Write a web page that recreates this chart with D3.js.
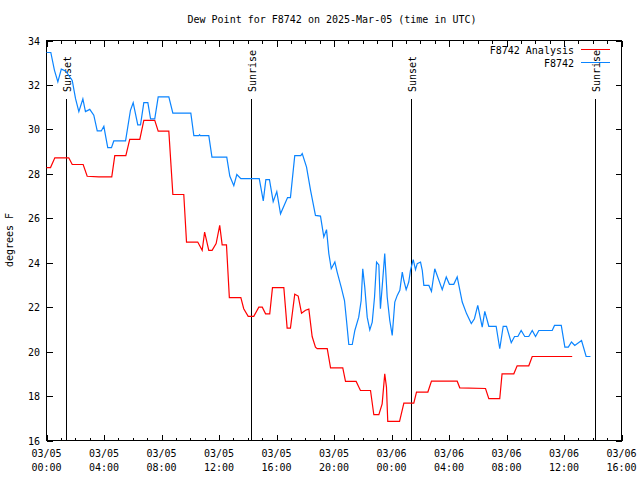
<!DOCTYPE html>
<html><head><meta charset="utf-8">
<script src="https://cdn.jsdelivr.net/npm/d3@7"></script>
<style>body{margin:0;background:#fff}svg{display:block}text{font-family:"DejaVu Sans Mono",monospace;font-size:10px;fill:#000}</style>
</head><body><svg id="c" width="640" height="480"></svg>
<script>
const titleText = "Dew Point for F8742 on 2025-Mar-05 (time in UTC)";
const yLabel = "degrees F";
const seriesNames = ["F8742 Analysis", "F8742"];
const seriesColors = ["#ff0000", "#0a84ff"];
const yTicks = [16, 18, 20, 22, 24, 26, 28, 30, 32, 34];
// hours since 2025-03-05 00:00 UTC
const obsHours = [0.0,0.3,0.55,0.79,1.03,1.33,1.79,2.02,2.25,2.53,2.71,3.01,3.29,3.53,3.81,3.99,4.1,4.26,4.52,4.68,5.5,5.84,6.03,6.35,6.54,6.77,7.05,7.24,7.53,7.77,8.51,8.79,10.04,10.25,10.6,10.65,10.7,11.29,11.51,12.54,12.75,13.03,13.24,13.52,14.8,15.08,15.26,15.51,15.77,16.02,16.28,16.77,16.97,17.27,17.69,17.79,18.09,18.37,18.71,19.06,19.29,19.48,19.64,19.81,20.06,20.22,20.5,20.73,20.87,21.03,21.27,21.45,21.72,21.89,22.0,22.14,22.31,22.49,22.66,22.82,22.96,23.12,23.23,23.35,23.53,23.7,23.88,24.05,24.23,24.4,24.58,24.75,24.86,25.02,25.2,25.32,25.51,25.67,25.79,26.02,26.14,26.25,26.6,26.78,27.01,27.53,27.81,28.03,28.33,28.57,28.92,29.22,29.55,29.77,30.0,30.31,30.49,30.77,31.28,31.53,31.77,32.0,32.33,32.56,32.79,33.02,33.27,33.55,33.79,34.02,34.25,35.18,35.34,35.81,36.06,36.3,36.52,36.75,37.22,37.54,37.84];
const obsValues = [33.46,33.46,32.67,32.14,32.71,32.63,32.2,31.38,30.8,31.37,30.8,30.9,30.64,29.93,29.93,30.14,29.74,29.18,29.18,29.48,29.48,30.86,31.2,30.2,30.2,31.2,31.2,30.47,30.47,31.46,31.46,30.73,30.73,29.72,29.72,29.76,29.72,29.72,28.75,28.75,27.9,27.47,27.97,27.78,27.78,26.78,27.74,27.74,26.75,27.2,26.2,26.93,26.93,28.82,28.82,28.91,28.3,27.26,26.13,26.1,25.16,25.49,24.41,23.73,24.03,23.58,22.9,22.3,21.4,20.32,20.32,20.95,21.55,22.3,23.73,22.9,21.55,20.98,21.33,22.46,24.03,23.9,21.93,22.9,24.41,22.46,21.4,20.73,22.23,22.53,22.76,23.58,23.2,22.79,23.13,23.66,24.14,23.69,23.96,24.03,23.66,22.98,22.98,22.71,23.73,22.79,23.36,23.03,23.03,23.36,22.23,21.71,21.26,21.48,22.08,21.1,21.81,21.14,21.14,20.13,21.14,21.14,20.4,20.68,20.68,20.95,20.68,20.68,20.95,20.68,20.95,20.95,21.18,21.18,20.2,20.2,20.43,20.28,20.5,19.78,19.78];
const anaHours = [0.0,0.28,0.58,1.55,1.79,2.55,2.83,3.64,4.54,4.75,5.52,5.79,6.49,6.77,7.53,7.77,8.51,8.79,9.55,9.74,10.52,10.83,11.0,11.29,11.52,11.8,12.05,12.22,12.52,12.72,13.52,13.72,14.03,14.42,14.77,15.01,15.24,15.53,15.72,16.51,16.74,16.97,17.27,17.51,17.74,18.02,18.25,18.48,18.71,18.83,19.53,19.76,20.61,20.8,21.54,21.84,22.54,22.77,23.12,23.35,23.53,23.65,23.74,24.56,24.86,25.55,25.74,26.53,26.78,28.57,28.75,30.54,30.77,31.53,31.69,32.51,32.74,33.55,33.79,36.57];
const anaValues = [28.28,28.28,28.72,28.72,28.42,28.42,27.89,27.86,27.86,28.82,28.82,29.55,29.55,30.41,30.41,29.92,29.92,27.07,27.07,24.93,24.93,24.56,25.38,24.56,24.56,24.86,25.68,24.8,24.8,22.43,22.43,21.93,21.59,21.59,22.0,22.0,21.7,21.7,22.88,22.88,21.06,21.06,22.58,22.5,21.73,21.86,21.91,20.68,20.2,20.13,20.13,19.27,19.27,18.66,18.66,18.25,18.25,17.16,17.16,17.65,19.0,18.4,16.86,16.86,17.68,17.68,18.18,18.18,18.67,18.67,18.37,18.34,17.88,17.88,19.0,19.0,19.36,19.36,19.78,19.78];
const sunTimes = ["2025-03-05T01:20Z", "2025-03-05T14:13Z", "2025-03-06T01:21Z", "2025-03-06T14:08Z"];
const sunLabels = ["Sunset", "Sunrise", "Sunset", "Sunrise"];

const t0 = Date.UTC(2025, 2, 5, 0);
const t1 = Date.UTC(2025, 2, 6, 16);
const toDate = h => new Date(t0 + h * 3600e3);

const svg = d3.select("#c");
const L = 46.5, R = 621.5, T = 40.5, B = 440.5;
const x = d3.scaleUtc().domain([t0, t1]).range([L, R]);
const y = d3.scaleLinear().domain([16, 34]).range([B, T]);

const g = svg.append("g").attr("shape-rendering", "crispEdges");
// frame
g.append("rect").attr("x", L).attr("y", T).attr("width", R - L).attr("height", B - T)
  .attr("fill", "none").attr("stroke", "#000");

const major = d3.utcHour.every(4).range(new Date(t0), new Date(t1 + 1));
const minor = d3.utcHour.every(1).range(new Date(t0), new Date(t1 + 1));
// x ticks bottom and top
minor.forEach(d => {
  const isMajor = d.getUTCHours() % 4 === 0;
  const len = isMajor ? 6 : 3;
  const xx = Math.round(x(d)) + 0.5;
  g.append("line").attr("x1", xx).attr("x2", xx).attr("y1", B).attr("y2", B - len).attr("stroke", "#000");
  g.append("line").attr("x1", xx).attr("x2", xx).attr("y1", T).attr("y2", T + len).attr("stroke", "#000");
});
const fmtD = d3.utcFormat("%m/%d"), fmtT = d3.utcFormat("%H:%M");
major.forEach(d => {
  const t = svg.append("text").attr("x", x(d)).attr("text-anchor", "middle");
  t.append("tspan").attr("x", x(d)).attr("y", 457).text(fmtD(d));
  t.append("tspan").attr("x", x(d)).attr("y", 471).text(fmtT(d));
});
// y ticks left and right
yTicks.forEach(v => {
  const yy = Math.round(y(v)) + 0.5;
  g.append("line").attr("x1", L).attr("x2", L + 6).attr("y1", yy).attr("y2", yy).attr("stroke", "#000");
  g.append("line").attr("x1", R).attr("x2", R - 6).attr("y1", yy).attr("y2", yy).attr("stroke", "#000");
  svg.append("text").attr("x", 40).attr("y", yy + 3.5).attr("text-anchor", "end").text(v);
});

// title and y label
svg.append("text").attr("x", 332).attr("y", 23).attr("text-anchor", "middle").text(titleText);
svg.append("text").attr("transform", "translate(13,240) rotate(-90)").attr("text-anchor", "middle").text(yLabel);

// sun lines
sunTimes.forEach((s, i) => {
  const xx = Math.round(x(new Date(s))) + 0.5;
  g.append("line").attr("x1", xx).attr("x2", xx).attr("y1", 99).attr("y2", B).attr("stroke", "#000");
  svg.append("text").attr("transform", `translate(${xx + 4},92) rotate(-90)`).attr("text-anchor", "start").text(sunLabels[i]);
});

// data lines
const line = d3.line().x(d => x(d[0])).y(d => y(d[1]));
const ana = anaHours.map((h, i) => [toDate(h), anaValues[i]]);
const obs = obsHours.map((h, i) => [toDate(h), obsValues[i]]);
svg.append("path").datum(ana).attr("d", line).attr("fill", "none").attr("stroke", seriesColors[0]).attr("stroke-width", 1.2);
svg.append("path").datum(obs).attr("d", line).attr("fill", "none").attr("stroke", seriesColors[1]).attr("stroke-width", 1.2);

// legend
seriesNames.forEach((n, i) => {
  const yy = 50 + i * 13;
  svg.append("text").attr("x", 574).attr("y", yy + 3.5).attr("text-anchor", "end").text(n);
  g.append("line").attr("x1", 581).attr("x2", 610).attr("y1", yy - 0.5).attr("y2", yy - 0.5).attr("stroke", seriesColors[i]);
});
</script></body></html>
